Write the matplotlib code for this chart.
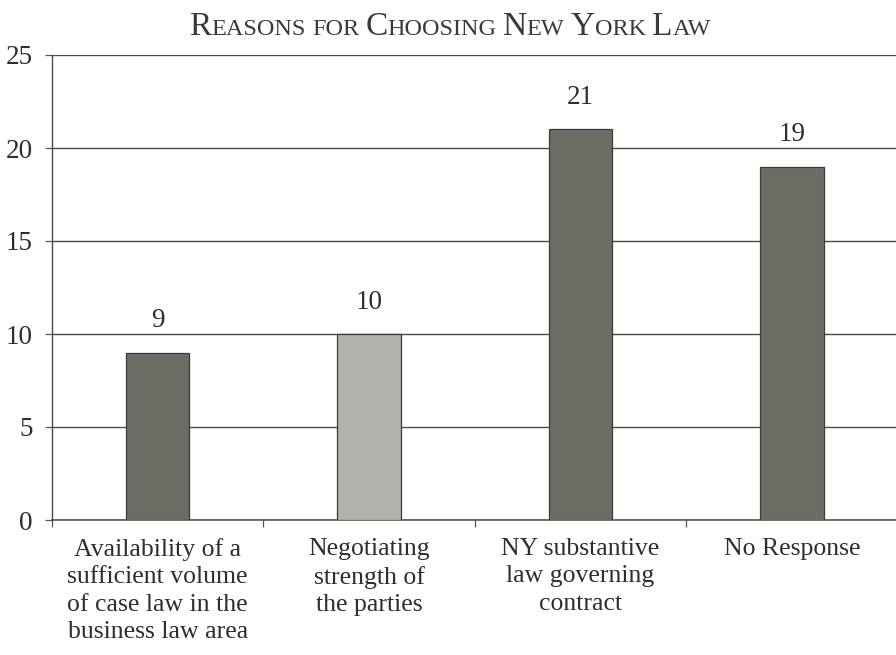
import matplotlib
matplotlib.use("Agg")
import matplotlib.pyplot as plt
from matplotlib.offsetbox import TextArea, HPacker, AnchoredOffsetbox
import numpy as np

categories = [
    "Availability of a\nsufficient volume\nof case law in the\nbusiness law area",
    "Negotiating\nstrength of\nthe parties",
    "NY substantive\nlaw governing\ncontract",
    "No Response",
]
values = [9, 10, 21, 19]
bar_colors = ["#6c6e66", "#b3b1ab", "#6c6e66", "#6c6e66"]
yticks = [0, 5, 10, 15, 20, 25]
title_words = ["Reasons", "for", "Choosing", "New", "York", "Law"]

plt.rcParams["font.family"] = ["Liberation Serif", "DejaVu Serif"]
text_color = "#2e2e2e"

fig = plt.figure(figsize=(8.96, 6.55), dpi=100)
fig.patch.set_facecolor("white")
ax = fig.add_axes([52 / 896, 135 / 655, 1 - 52 / 896 + 0.002, 465 / 655])

x = np.arange(len(values))
bars = ax.bar(x, values, width=0.30, color=bar_colors, edgecolor="#3a3a3a",
              linewidth=0.9, zorder=3)

ax.set_ylim(0, 25)
ax.set_xlim(-0.5, len(values) - 0.5)
ax.set_yticks(yticks)
ax.set_yticklabels([str(t) for t in yticks], fontsize=19.5, color=text_color)
for t in yticks:
    ax.axhline(t, color="#4a4a4a", linewidth=1.0, zorder=1)

ax.set_xticks(x)
ax.set_xticklabels(categories, fontsize=18.5, color=text_color, linespacing=1.32)
ax.set_xticks(np.arange(len(values) + 1) - 0.5, minor=True)
ax.tick_params(axis="x", which="major", length=0, pad=13)
ax.tick_params(axis="x", which="minor", length=5, width=0.9, color="#555555", direction="out")
ax.tick_params(axis="y", length=5, width=0.9, color="#555555", direction="out", pad=9)

for s in ["top", "right"]:
    ax.spines[s].set_visible(False)
ax.spines["left"].set_color("#4a4a4a")
ax.spines["left"].set_linewidth(1.0)
ax.spines["bottom"].set_color("#4a4a4a")
ax.spines["bottom"].set_linewidth(1.1)

for b, v in zip(bars, values):
    ax.annotate(str(v), (b.get_x() + b.get_width() / 2, v), xytext=(0, 14),
                textcoords="offset points", ha="center", va="bottom",
                fontsize=19.5, color=text_color)

# small-caps title
big, small = 24, 17.5
parts = []
for i, w in enumerate(title_words):
    if i > 0:
        parts.append(TextArea(" ", textprops=dict(fontsize=small, color="#3a3a3a")))
    if w[0].isupper():
        parts.append(TextArea(w[0], textprops=dict(fontsize=big, color="#3a3a3a")))
        rest = w[1:]
    else:
        rest = w
    if rest:
        parts.append(TextArea(rest.upper(), textprops=dict(fontsize=small, color="#3a3a3a")))
pack = HPacker(children=parts, align="baseline", pad=0, sep=0)
anch = AnchoredOffsetbox(loc="center", child=pack, frameon=False,
                         bbox_to_anchor=(450 / 896, 1 - 27 / 655),
                         bbox_transform=fig.transFigure, borderpad=0, pad=0)
fig.add_artist(anch)

fig.savefig("out.png", dpi=100, facecolor="white")
